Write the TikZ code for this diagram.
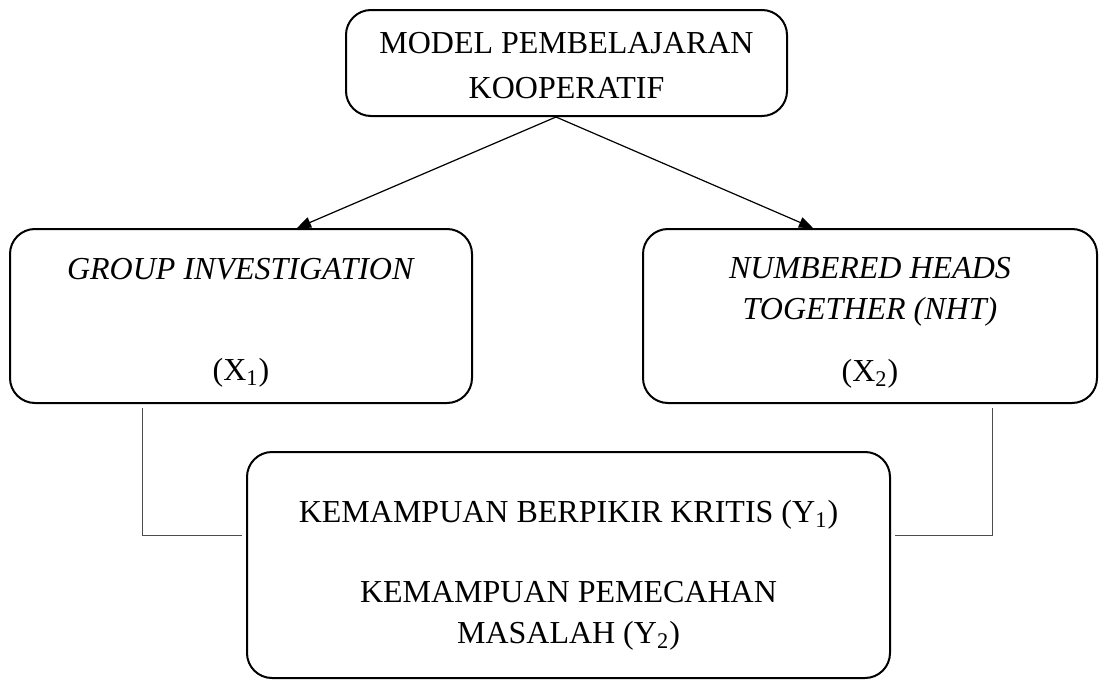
\documentclass[tikz,border=0pt]{standalone}
\usepackage{fontspec}
\setmainfont{Liberation Serif}
\usetikzlibrary{arrows.meta}

\begin{document}
\begin{tikzpicture}[x=0.5pt,y=-0.5pt, -{Triangle[length=7pt,width=5.5pt]}, line width=0.6pt,
        every node/.append style={font=\fontsize{16}{20.5}\selectfont, align=center}]
      \tikzstyle{box} = [draw, line width=1pt, rounded corners=12.5pt, inner sep=0pt]
      \tikzstyle{link} = [-, line width=0.5pt, color=black!70]
      \useasboundingbox (0,0) rectangle (1099,680);
      \node (model) [box, minimum width=220.5pt, minimum height=53pt] at (566.5,63)
        {\rule{0pt}{13pt}MODEL PEMBELAJARAN\\[2pt]KOOPERATIF};
      \node (gi) [box, minimum width=231pt, minimum height=87pt] at (241,316)
        {\rule{0pt}{17pt}\textit{GROUP INVESTIGATION}\\[30pt](X\textsubscript{1})};
      \node (nht) [box, minimum width=227pt, minimum height=87pt] at (870,316)
        {\rule{0pt}{17pt}\textit{NUMBERED HEADS}\\\textit{TOGETHER (NHT)}\\[10.5pt](X\textsubscript{2})};
      \node (kemampuan) [box, minimum width=321.5pt, minimum height=113pt] at (568.5,565)
        {\rule{0pt}{21pt}KEMAMPUAN BERPIKIR KRITIS (Y\textsubscript{1})\\[19.5pt]KEMAMPUAN PEMECAHAN\\MASALAH (Y\textsubscript{2})};
      \coordinate (apex) at ([xshift=-5.25pt]model.south);
      \draw (apex) -- ([xshift=28pt]gi.north);
      \draw (apex) -- ([xshift=-28.5pt]nht.north);
      \draw[link] ([xshift=66.5pt,yshift=-2pt]gi.south west) |- ([xshift=-2pt,yshift=15pt]kemampuan.west);
      \draw[link] ([xshift=-53pt,yshift=-2pt]nht.south east) |- ([xshift=2pt,yshift=15pt]kemampuan.east);
\end{tikzpicture}
\end{document}
